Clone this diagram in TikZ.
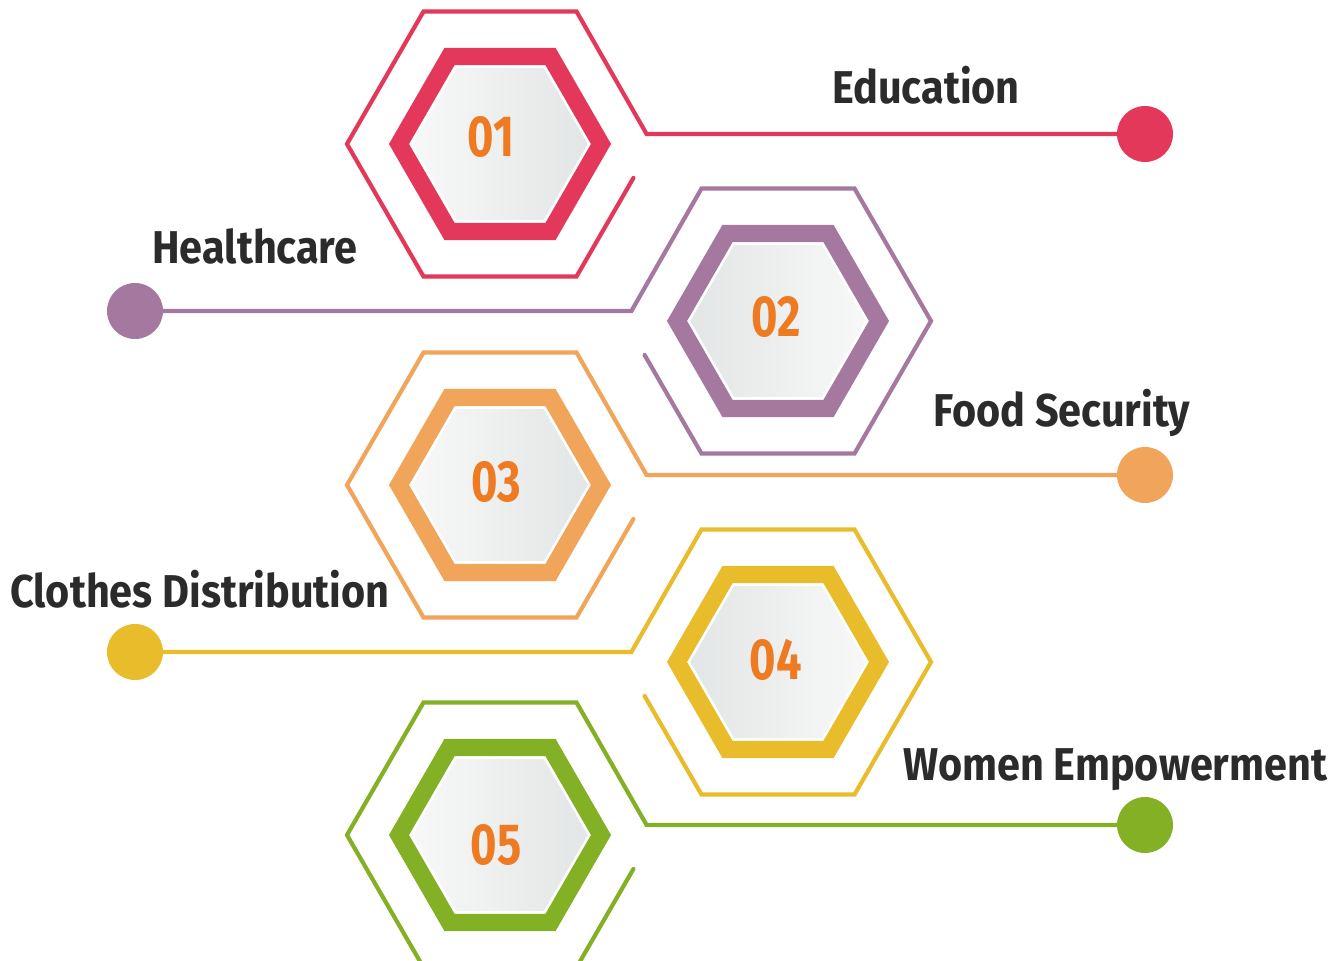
\documentclass[tikz,border=0pt]{standalone}
\usepackage{fontspec}
\setmainfont{Fira Sans}
\newfontfamily\lblfont[FakeStretch=0.9]{Fira Sans}
\newfontfamily\numfont[FakeStretch=0.78]{Fira Sans}
\usepackage{tikz}
\usetikzlibrary{shapes.geometric}
\definecolor{hred}{HTML}{E3385A}
\definecolor{hpurple}{HTML}{A4789F}
\definecolor{horange}{HTML}{F0A55A}
\definecolor{hyellow}{HTML}{E8BC2A}
\definecolor{hgreen}{HTML}{84B026}
\definecolor{numorange}{HTML}{EE7A22}
\definecolor{lbltext}{HTML}{2B2B2B}
\definecolor{glight}{HTML}{F8F8F8}
\definecolor{gdark}{HTML}{E3E6E6}

\begin{document}
\begin{tikzpicture}[x=0.5pt,y=-0.5pt,
	ring/.style={regular polygon, regular polygon sides=6, minimum size=101pt, inner sep=0pt, line width=8.7pt, draw=#1},
	core/.style={regular polygon, regular polygon sides=6, minimum size=89pt, inner sep=0pt, draw=white, line width=1pt},
	frame/.style={draw=#1, line width=2.1pt, line cap=round},
	dot/.style={circle, fill=#1, minimum size=28pt, inner sep=0pt},
	num/.style={text=numorange, font=\numfont\bfseries\fontsize{29}{30}\selectfont},
	lbl/.style={anchor=base west, text=lbltext, inner sep=0pt, font=\lblfont\bfseries\fontsize{23}{26}\selectfont}]
	\useasboundingbox (0,0) rectangle (1344,961);
	% 01 Education
	\begin{scope}[shift={(500,144)}]
	\node[dot=hred] (d1) at (645,-10) {};
	\draw[frame=hred] (d1) -- (146.6,-10) -- (76.5,-132.5) -- (-76.5,-132.5) -- (-153,0) -- (-76.5,132.5) -- (76.5,132.5) -- (133.4,34);
	\node[ring=hred] (h1) at (0,0) {};
	\node[core, left color=glight, right color=gdark] (c1) at (0,0) {};
	\node[num] (n1) at (-9,-7) {01};
	\end{scope}
	\node[lbl] (t1) at (832,104) {Education};
	% 02 Healthcare
	\begin{scope}[shift={(778,321)}]
	\node[dot=hpurple] (d2) at (-643,-10) {};
	\draw[frame=hpurple] (d2) -- (-146.6,-10) -- (-76.5,-132.5) -- (76.5,-132.5) -- (153,0) -- (76.5,132.5) -- (-76.5,132.5) -- (-133.4,34);
	\node[ring=hpurple] (h2) at (0,0) {};
	\node[core, left color=gdark, right color=glight] (c2) at (0,0) {};
	\node[num] (n2) at (-2,-4) {02};
	\end{scope}
	\node[lbl] (t2) at (152,264) {Healthcare};
	% 03 Food Security
	\begin{scope}[shift={(500,485)}]
	\node[dot=horange] (d3) at (645,-10) {};
	\draw[frame=horange] (d3) -- (146.6,-10) -- (76.5,-132.5) -- (-76.5,-132.5) -- (-153,0) -- (-76.5,132.5) -- (76.5,132.5) -- (133.4,34);
	\node[ring=horange] (h3) at (0,0) {};
	\node[core, left color=glight, right color=gdark] (c3) at (0,0) {};
	\node[num] (n3) at (-4,-3) {03};
	\end{scope}
	\node[lbl] (t3) at (933,427) {Food Security};
	% 04 Clothes Distribution
	\begin{scope}[shift={(778,662)}]
	\node[dot=hyellow] (d4) at (-643,-10) {};
	\draw[frame=hyellow] (d4) -- (-146.6,-10) -- (-76.5,-132.5) -- (76.5,-132.5) -- (153,0) -- (76.5,132.5) -- (-76.5,132.5) -- (-133.4,34);
	\node[ring=hyellow] (h4) at (0,0) {};
	\node[core, left color=gdark, right color=glight] (c4) at (0,0) {};
	\node[num] (n4) at (-2,-2) {04};
	\end{scope}
	\node[lbl] (t4) at (10,608) {Clothes Distribution};
	% 05 Women Empowerment
	\begin{scope}[shift={(500,835)}]
	\node[dot=hgreen] (d5) at (645,-10) {};
	\draw[frame=hgreen] (d5) -- (146.6,-10) -- (76.5,-132.5) -- (-76.5,-132.5) -- (-153,0) -- (-76.5,132.5) -- (76.5,132.5) -- (133.4,34);
	\node[ring=hgreen] (h5) at (0,0) {};
	\node[core, left color=glight, right color=gdark] (c5) at (0,0) {};
	\node[num] (n5) at (-4,10) {05};
	\end{scope}
	\node[lbl] (t5) at (903,781) {Women Empowerment};
\end{tikzpicture}
\end{document}
